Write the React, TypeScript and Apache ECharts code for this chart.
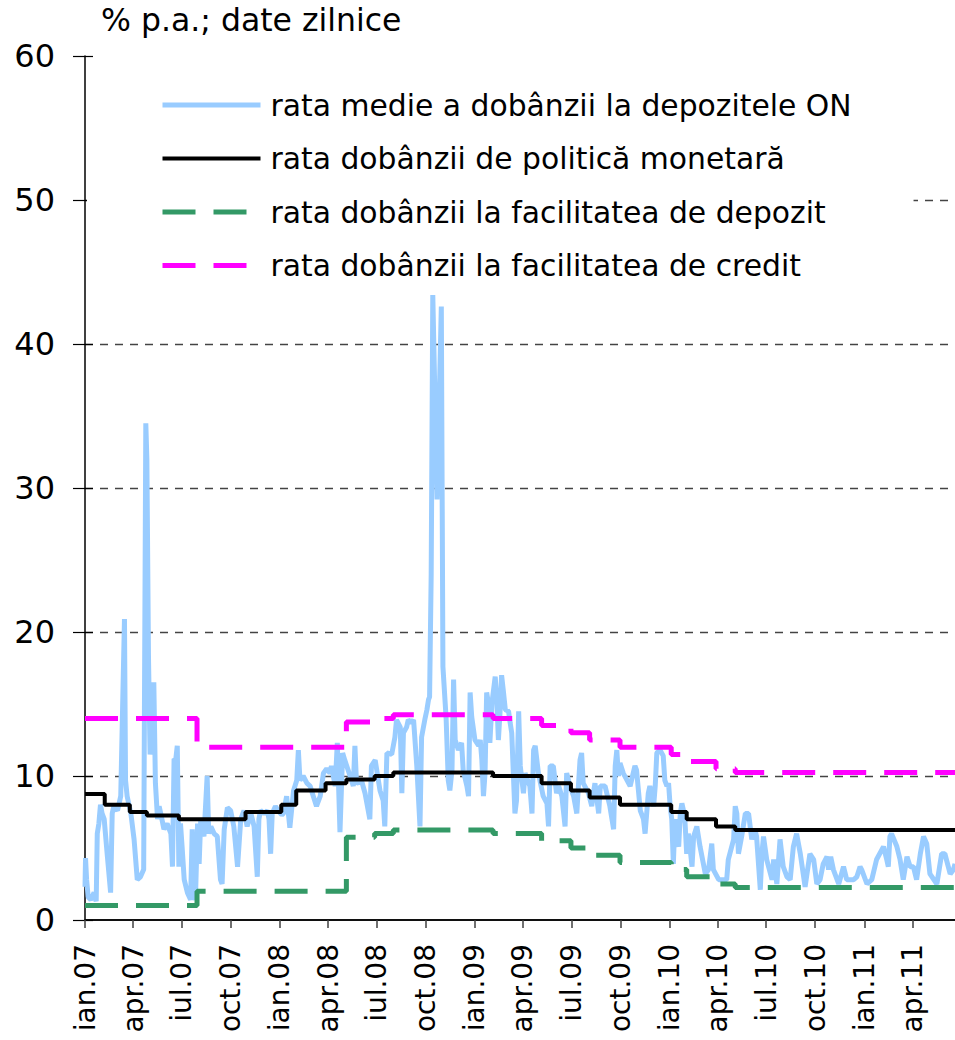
import React, { useEffect, useRef } from "react";
import * as echarts from "echarts";

// ---- axis range (daily categories) ----
const START_DATE = "2007-01-01";
const END_DATE = "2011-06-20";
const Y_TICKS = [0, 10, 20, 30, 40, 50, 60];
const MONTH_LABELS: Record<string, string> = { "01": "ian", "04": "apr", "07": "iul", "10": "oct" };

// ---- series names ----
const NAME_ON = "rata medie a dobânzii la depozitele ON";
const NAME_POLICY = "rata dobânzii de politică monetară";
const NAME_DEPOSIT = "rata dobânzii la facilitatea de depozit";
const NAME_LENDING = "rata dobânzii la facilitatea de credit";

// ---- policy rate (step changes) ----
const POLICY_DATES = ["2007-01-01","2007-02-07","2007-03-26","2007-04-27","2007-06-26","2007-10-29","2008-01-04","2008-02-01","2008-03-27","2008-05-05","2008-06-27","2008-08-01","2009-02-04","2009-05-06","2009-06-30","2009-08-04","2009-09-30","2010-01-04","2010-02-02","2010-03-29","2010-05-04","2011-06-20"];
const POLICY_VALUES = [8.75,8.0,7.5,7.25,7.0,7.5,8.0,9.0,9.5,9.75,10.0,10.25,10.0,9.5,9.0,8.5,8.0,7.5,7.0,6.5,6.25,6.25];

// ---- standing facilities (step changes) ----
const FACILITY_DATES = ["2007-01-01","2007-07-30","2008-05-05","2008-06-27","2008-08-01","2009-02-04","2009-05-06","2009-06-30","2009-08-04","2009-09-30","2010-01-04","2010-02-02","2010-03-29","2010-05-04","2011-06-20"];
const LENDING_VALUES = [14.0,12.0,13.75,14.0,14.25,14.0,13.5,13.0,12.5,12.0,11.5,11.0,10.5,10.25,10.25];
const DEPOSIT_VALUES = [1.0,2.0,5.75,6.0,6.25,6.0,5.5,5.0,4.5,4.0,3.5,3.0,2.5,2.25,2.25];

// ---- ON deposit rate: day offset from START_DATE and value ----
const ON_DAYS = [0,1,3,6,11,17,21,23,26,29,32,36,42,48,51,54,61,67,74,76,79,86,92,98,104,110,114,116,119,122,126,129,132,136,139,142,148,154,161,164,167,170,173,176,179,182,186,192,198,201,204,207,211,214,217,223,229,232,236,242,248,254,257,261,267,273,279,286,292,298,304,311,317,323,326,329,336,342,345,348,351,357,364,
369,372,378,384,391,397,400,403,409,416,422,428,434,441,447,453,459,462,469,473,478,483,487,497,503,506,509,519,525,534,537,544,553,559,562,566,575,581,584,591,594,597,603,606,612,616,622,628,631,637,641,644,646,649,652,660,668,671,677,681,684,688,691,694,700,706,709,716,719,722,
725,731,738,741,744,747,750,753,756,759,763,769,772,775,778,781,784,788,794,797,800,803,806,809,813,816,822,825,834,838,841,844,850,859,866,869,872,878,884,888,894,900,903,909,916,922,925,928,931,934,944,950,953,956,963,966,975,984,991,994,997,1000,1003,1009,1022,1031,1034,1041,1047,1050,1056,1059,1066,1069,1072,
1078,1084,1087,1091,1094,1097,1100,1103,1106,1109,1113,1116,1119,1122,1125,1128,1131,1134,1138,1141,1147,1153,1163,1169,1175,1178,1188,1203,1206,1216,1219,1222,1225,1231,1238,1244,1250,1256,1259,1263,1266,1269,1272,1278,1288,1291,1297,1303,1309,1316,1322,1328,1334,1341,1350,1359,1366,1372,1378,1384,1391,1394,1398,1403,1413,1422,1428,1441,1447,1453,
1456,1466,1475,1484,1497,1503,1506,1509,1512,1522,1528,1534,1541,1547,1553,1559,1566,1572,1578,1584,1597,1606,1612,1622,1628,1631];
const ON_VALUES = [2.3,4.3,2.8,1.6,1.4,1.9,1.3,6.0,6.7,8.0,7.4,7.0,4.4,1.9,7.4,7.9,7.6,8.6,20.9,9.7,8.6,7.4,5.6,2.8,3.0,3.5,34.5,32.0,18.3,11.5,13.0,16.5,9.5,7.0,7.9,7.4,6.3,6.7,6.0,3.7,11.2,11.1,12.1,3.7,6.7,5.1,2.8,1.9,1.4,6.3,1.9,1.4,6.7,3.9,7.0,5.8,10.0,6.0,6.5,6.0,5.8,2.8,2.5,6.3,7.8,7.6,6.5,3.7,7.0,7.6,6.5,7.4,6.5,3.0,7.0,7.6,7.4,7.6,7.0,4.6,7.4,7.9,7.5,
7.3,7.4,8.6,6.4,9.0,9.7,11.8,9.7,10.0,9.5,9.3,8.6,7.9,8.6,10.2,10.5,10.2,10.7,9.3,12.3,6.1,11.6,11.1,10.0,9.3,12.1,9.5,9.6,8.8,7.0,10.7,11.1,9.0,8.3,6.5,11.6,11.5,12.7,13.9,13.4,8.8,13.0,13.4,13.9,13.7,13.9,10.7,6.5,12.7,13.9,14.6,15.3,15.5,24.0,43.4,29.2,42.6,17.6,14.0,9.7,9.0,10.4,16.7,12.5,11.8,12.3,10.4,9.3,8.6,15.8,
14.1,12.5,12.1,12.5,11.1,8.6,10.2,15.8,15.1,12.3,15.1,16.9,15.3,12.5,14.4,17.0,16.0,14.6,14.5,13.7,13.0,10.2,7.4,8.3,14.5,10.7,8.8,10.2,9.3,7.4,11.8,12.1,10.2,8.6,8.1,6.5,10.7,10.7,8.8,9.3,8.6,6.5,10.2,9.3,8.6,7.4,9.3,11.1,11.6,9.5,8.8,7.9,8.8,9.5,7.4,9.3,9.3,7.9,6.3,10.7,11.8,10.0,10.9,10.2,9.3,10.7,10.4,7.6,7.0,6.0,8.8,9.3,7.9,9.3,11.6,
11.8,11.4,9.7,9.3,9.5,7.9,7.0,3.9,7.0,5.6,5.1,7.4,8.1,7.6,6.7,4.6,6.0,5.1,3.7,5.8,6.5,5.1,3.2,3.5,5.3,3.5,2.8,2.8,4.2,5.6,7.9,7.4,4.6,5.8,7.4,7.4,5.6,6.3,5.8,3.7,2.1,4.6,5.8,4.2,2.8,4.2,2.5,5.6,3.7,3.0,2.8,5.1,6.0,4.6,2.3,4.6,4.2,2.5,2.8,3.9,4.4,3.5,4.4,3.5,2.5,3.7,2.8,2.8,3.0,3.7,
3.5,2.5,2.8,4.2,5.1,4.2,3.7,5.8,6.0,5.1,4.2,2.8,4.4,3.7,3.7,2.8,4.6,5.8,5.3,3.2,2.5,4.6,4.6,3.2,3.5,3.9];

const FONT = "DejaVu Sans";

function utc(s: string): number {
  const [y, m, d] = s.split("-").map(Number);
  return Date.UTC(y, m - 1, d);
}
function dayIndex(s: string): number {
  return Math.round((utc(s) - utc(START_DATE)) / 86400000);
}
function buildCategories(): string[] {
  const out: string[] = [];
  const n = dayIndex(END_DATE);
  for (let i = 0; i <= n; i++) {
    out.push(new Date(utc(START_DATE) + i * 86400000).toISOString().slice(0, 10));
  }
  return out;
}
function isQuarterStart(v: string): boolean {
  return v.slice(8, 10) === "01" && MONTH_LABELS[v.slice(5, 7)] !== undefined;
}

export default function App() {
  const ref = useRef<HTMLDivElement>(null);
  useEffect(() => {
    if (!ref.current) return;
    const chart = echarts.init(ref.current, undefined, { renderer: "svg" });
    const categories = buildCategories();
    const stepData = (dates: string[], vals: number[]) => dates.map((d, i) => [dayIndex(d), vals[i]]);
    const yAxisCommon = { type: "value", min: Y_TICKS[0], max: Y_TICKS[Y_TICKS.length - 1], interval: 10 };
    const legendItem = (name: string, color: string, width: number, dashed: boolean) => ({
      name,
      itemStyle: { opacity: 0 },
      lineStyle: { color, width, type: dashed ? [33, 18] : "solid", opacity: 1 },
    });
    chart.setOption({
      animation: false,
      backgroundColor: "#ffffff",
      title: {
        text: "% p.a.; date zilnice",
        left: 101,
        top: 4,
        padding: 0,
        textStyle: { fontFamily: FONT, fontSize: 31.5, fontWeight: "normal", color: "#000" },
      },
      legend: {
        orient: "vertical",
        left: 87,
        top: 70,
        padding: [20, 62, 4, 73],
        backgroundColor: "#ffffff",
        itemWidth: 98,
        itemHeight: 14,
        itemGap: 23.5,
        data: [
          legendItem(NAME_ON, "#99CCFF", 5, false),
          legendItem(NAME_POLICY, "#000000", 4, false),
          legendItem(NAME_DEPOSIT, "#339966", 5, true),
          legendItem(NAME_LENDING, "#FF00FF", 5, true),
        ],
        textStyle: { fontFamily: FONT, fontSize: 29.8, color: "#000", lineHeight: 30, padding: [0, 0, 0, 5] },
      },
      grid: { left: 85, right: 0, top: 56, bottom: 120, containLabel: false },
      xAxis: [
        {
          type: "category",
          data: categories,
          boundaryGap: false,
          axisLine: { lineStyle: { color: "#404040", width: 2 } },
          axisTick: {
            interval: (_i: number, v: string) => isQuarterStart(v),
            length: 8,
            lineStyle: { color: "#404040", width: 1.5 },
          },
          axisLabel: {
            interval: (_i: number, v: string) => isQuarterStart(v),
            rotate: 90,
            margin: 24,
            fontFamily: FONT,
            fontSize: 28,
            color: "#000",
            formatter: (v: string) => MONTH_LABELS[v.slice(5, 7)] + "." + v.slice(2, 4),
          },
          splitLine: { show: false },
        },
        {
          type: "category",
          data: categories,
          boundaryGap: false,
          position: "top",
          axisLine: { show: true, lineStyle: { color: "#000", width: 1.5 } },
          axisTick: { show: false },
          axisLabel: { show: false },
          splitLine: { show: false },
        },
      ],
      yAxis: [
        {
          ...yAxisCommon,
          position: "left",
          axisLine: { show: true, lineStyle: { color: "#000", width: 1.5 } },
          axisTick: { show: true, length: 12, lineStyle: { color: "#000", width: 1.2 } },
          axisLabel: { fontFamily: FONT, fontSize: 32, color: "#000", margin: 30 },
          splitLine: { show: true, showMaxLine: false, showMinLine: false, lineStyle: { color: "#444", type: [8, 7], width: 1.3 } },
        },
        {
          ...yAxisCommon,
          position: "left",
          axisLine: { show: false },
          axisTick: { show: true, inside: true, length: 8, lineStyle: { color: "#000", width: 1.2 } },
          axisLabel: { show: false },
          splitLine: { show: false },
        },
      ],
      series: [
        {
          name: NAME_ON,
          type: "line",
          data: ON_DAYS.map((d, i) => [d, ON_VALUES[i]]),
          symbol: "none",
          lineStyle: { color: "#99CCFF", width: 5 },
          itemStyle: { color: "#99CCFF" },
          z: 2,
        },
        {
          name: NAME_POLICY,
          type: "line",
          step: "end",
          data: stepData(POLICY_DATES, POLICY_VALUES),
          symbol: "none",
          lineStyle: { color: "#000000", width: 4 },
          itemStyle: { color: "#000000" },
          z: 3,
        },
        {
          name: NAME_DEPOSIT,
          type: "line",
          step: "end",
          data: stepData(FACILITY_DATES, DEPOSIT_VALUES),
          symbol: "none",
          lineStyle: { color: "#339966", width: 5, type: [33, 18] },
          itemStyle: { color: "#339966" },
          z: 3,
        },
        {
          name: NAME_LENDING,
          type: "line",
          step: "end",
          data: stepData(FACILITY_DATES, LENDING_VALUES),
          symbol: "none",
          lineStyle: { color: "#FF00FF", width: 5, type: [33, 18] },
          itemStyle: { color: "#FF00FF" },
          z: 3,
        },
      ],
    });
    return () => chart.dispose();
  }, []);
  return <div ref={ref} style={{ position: "absolute", left: 0, top: 0, width: 955, height: 1040 }} />;
}
